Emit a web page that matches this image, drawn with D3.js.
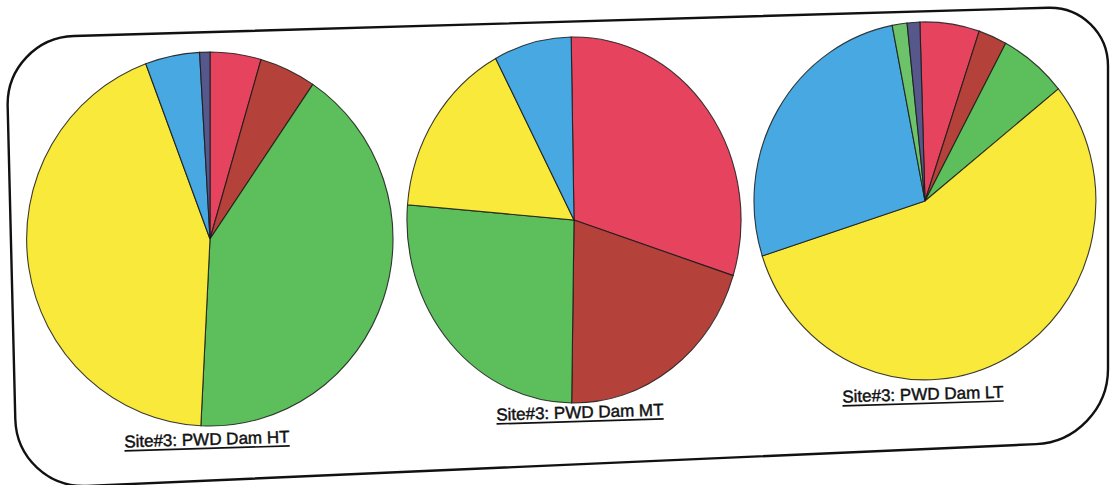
<!DOCTYPE html>
<html>
<head>
<meta charset="utf-8">
<script src="https://cdn.jsdelivr.net/npm/d3@7"></script>
<style>
  html, body { margin: 0; padding: 0; background: #fff; }
  svg { display: block; }
</style>
</head>
<body>
<svg id="chart" width="1114" height="485"></svg>
<script>
// Composition categories (same order and colour in every pie)
const categories = ["Group 1", "Group 2", "Group 3", "Group 4", "Group 5", "Group 6", "Group 7"];

// Site labels
const siteLabels = ["Site#3: PWD Dam HT", "Site#3: PWD Dam MT", "Site#3: PWD Dam LT"];

// Percent share of each category per tide level
const valuesHT = [4.5, 5.0, 41.3, 43.5, 4.8, 0.0, 0.9];
const valuesMT = [30.2, 20.3, 26.1, 15.9, 7.5, 0.0, 0.0];
const valuesLT = [5.6, 2.7, 6.4, 55.8, 26.9, 1.4, 1.2];

const sliceColors = ["#E6435F", "#B5423A", "#5CBF5C", "#F9E93B", "#47A8E2", "#6CC36A", "#56578A"];

const series = [valuesHT, valuesMT, valuesLT];

// Placement of each pie (elliptical footprint) and its caption
const layout = [
  { cx: 210, cy: 239, rx: 183, ry: 187, rot: 0.0, lx: 207, ly: 445 },
  { cx: 574, cy: 220, rx: 167, ry: 183, rot: -1.0, lx: 580, ly: 418 },
  { cx: 925, cy: 201, rx: 171, ry: 179, rot: -1.7, lx: 923, ly: 400 }
];

const svg = d3.select("#chart");
const color = d3.scaleOrdinal(categories, sliceColors);

// Rounded frame around the three pies
(function drawFrame() {
  const corners = [[6, 38], [1108, 6], [1108, 441], [17, 489]];
  const radii = [68, 60, 72, 70];
  const k = 0.5523;
  const n = corners.length;
  const pts = corners.map((c, i) => {
    const p = corners[(i + n - 1) % n], q = corners[(i + 1) % n];
    const r = radii[i];
    const dp = Math.hypot(p[0] - c[0], p[1] - c[1]);
    const dq = Math.hypot(q[0] - c[0], q[1] - c[1]);
    const a = [c[0] + (p[0] - c[0]) * r / dp, c[1] + (p[1] - c[1]) * r / dp];
    const b = [c[0] + (q[0] - c[0]) * r / dq, c[1] + (q[1] - c[1]) * r / dq];
    return { a, b, c };
  });
  const path = d3.path();
  path.moveTo(pts[0].b[0], pts[0].b[1]);
  for (let j = 1; j <= n; j++) {
    const { a, b, c } = pts[j % n];
    path.lineTo(a[0], a[1]);
    path.bezierCurveTo(
      a[0] + (c[0] - a[0]) * k, a[1] + (c[1] - a[1]) * k,
      b[0] + (c[0] - b[0]) * k, b[1] + (c[1] - b[1]) * k,
      b[0], b[1]);
  }
  path.closePath();
  svg.append("path")
    .attr("d", path.toString())
    .attr("fill", "none")
    .attr("stroke", "#111")
    .attr("stroke-width", 2.4);
})();

const arc = d3.arc().innerRadius(0).outerRadius(1);

series.forEach((values, i) => {
  const L = layout[i];
  const start = L.rot * Math.PI / 180;
  const pie = d3.pie().sort(null).value(d => d)
    .startAngle(start).endAngle(start + 2 * Math.PI);
  const arcs = pie(values).filter(d => d.data > 0);

  const g = svg.append("g")
    .attr("transform", `translate(${L.cx},${L.cy}) scale(${L.rx},${L.ry})`);

  g.selectAll("path")
    .data(arcs)
    .join("path")
    .attr("d", arc)
    .attr("fill", d => color(categories[d.index]))
    .attr("stroke", "#1a1a1a")
    .attr("stroke-opacity", 0.85)
    .attr("stroke-width", 1.1)
    .attr("vector-effect", "non-scaling-stroke");

  // Caption with underline
  const cap = svg.append("g")
    .attr("transform", `translate(${L.lx},${L.ly}) rotate(-1.7)`);
  const t = cap.append("text")
    .attr("text-anchor", "middle")
    .attr("font-family", "'Liberation Sans', Arial, sans-serif")
    .attr("font-size", 17)
    .attr("fill", "#111")
    .attr("stroke", "#111")
    .attr("stroke-width", 0.45)
    .text(siteLabels[i]);
  const w = t.node().getComputedTextLength();
  cap.append("line")
    .attr("x1", -w / 2).attr("x2", w / 2)
    .attr("y1", 3.4).attr("y2", 3.4)
    .attr("stroke", "#111")
    .attr("stroke-width", 1.7);
});
</script>
</body>
</html>
